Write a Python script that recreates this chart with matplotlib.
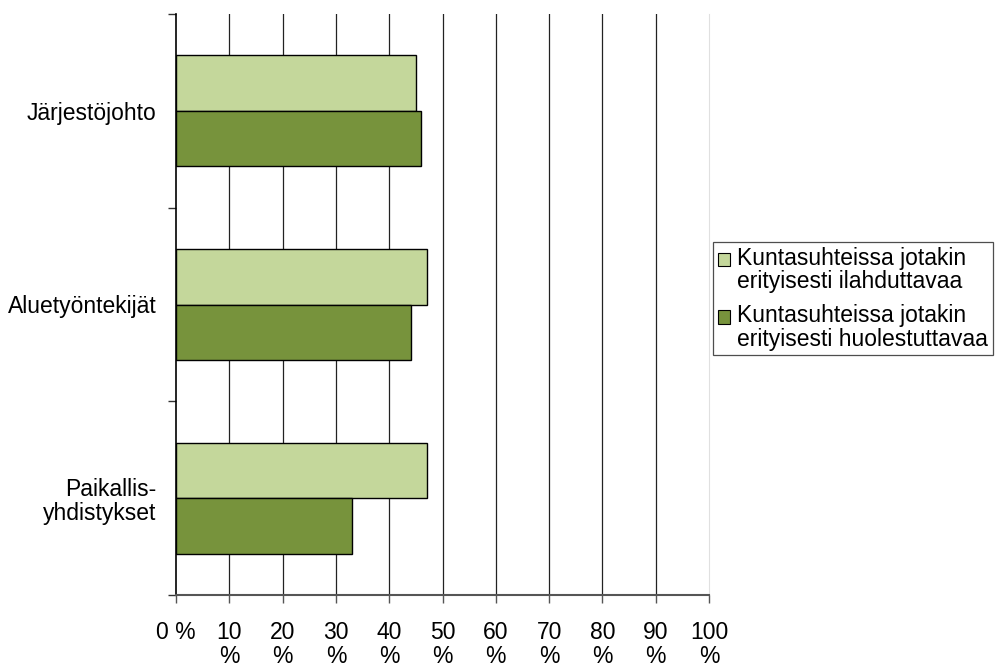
import numpy as np
import matplotlib
matplotlib.use("Agg")
import matplotlib.pyplot as plt
from matplotlib.patches import Patch, Rectangle
from matplotlib.legend_handler import HandlerPatch

# Data
categories = ["Järjestöjohto", "Aluetyöntekijät", "Paikallis-\nyhdistykset"]
ilahduttavaa = [45, 47, 47]
huolestuttavaa = [46, 44, 33]
series_labels = ["Kuntasuhteissa jotakin\nerityisesti ilahduttavaa",
                 "Kuntasuhteissa jotakin\nerityisesti huolestuttavaa"]
x_ticks = list(range(0, 101, 10))
x_ticklabels = ["0 %"] + ["%d\n%%" % v for v in x_ticks[1:]]

light = "#C4D79B"
dark = "#77933C"
fs = 16.5

plt.rcParams["font.family"] = ["Liberation Sans", "DejaVu Sans"]

fig = plt.figure(figsize=(9.96, 6.64), dpi=100)
ax = fig.add_axes([176 / 996, 1 - 595 / 664, (709 - 176) / 996, (595 - 14) / 664])

y = np.arange(len(categories))
h = 0.2865
ax.barh(y - h / 2, ilahduttavaa, height=h, color=light, edgecolor="black", linewidth=1.0, zorder=3)
ax.barh(y + h / 2, huolestuttavaa, height=h, color=dark, edgecolor="black", linewidth=1.0, zorder=3)

ax.set_xlim(0, 100)
ax.set_ylim(len(categories) - 0.5, -0.5)

# vertical gridlines
for v in x_ticks[1:-1]:
    ax.axvline(v, color="#222222", linewidth=0.9, zorder=1)

ax.set_xticks(x_ticks)
ax.set_xticklabels(x_ticklabels, fontsize=fs, linespacing=1.05)
ax.tick_params(axis="x", direction="out", length=6, width=1, color="#555555", pad=13)

# category boundaries as major ticks, labels on minor ticks
ax.set_yticks(np.arange(-0.5, len(categories), 1.0))
ax.set_yticklabels([])
ax.set_yticks(y, minor=True)
ax.set_yticklabels(categories, minor=True, fontsize=fs, ha="right", linespacing=1.05)
ax.tick_params(axis="y", which="major", direction="out", length=6, width=1, color="#333333")
ax.tick_params(axis="y", which="minor", length=0, pad=14)

ax.spines["top"].set_visible(False)
ax.spines["right"].set_color("#e0e0e0")
ax.spines["left"].set_color("black")
ax.spines["left"].set_linewidth(1.2)
ax.spines["bottom"].set_color("#555555")
ax.spines["bottom"].set_linewidth(1.5)


# legend marker sits next to the first line of each two-line label
def first_line_patch(legend, orig_handle, xdescent, ydescent, width, height, fontsize):
    return Rectangle((-xdescent, -ydescent + 0.5 * fontsize), width, height)


handles = [Patch(facecolor=light, edgecolor="black", linewidth=0.8),
           Patch(facecolor=dark, edgecolor="black", linewidth=0.8)]
leg = fig.legend(handles, series_labels, loc="upper left",
                 bbox_to_anchor=(713 / 996, 1 - 242 / 664),
                 fontsize=fs, frameon=True, fancybox=False, edgecolor="#222222",
                 handlelength=0.55, handleheight=0.55, handletextpad=0.3,
                 borderpad=0.2, labelspacing=0.45, borderaxespad=0,
                 handler_map={Patch: HandlerPatch(patch_func=first_line_patch)})
leg.get_frame().set_linewidth(0.9)
for t in leg.get_texts():
    t.set_linespacing(1.05)

fig.savefig("out.png", dpi=100)
